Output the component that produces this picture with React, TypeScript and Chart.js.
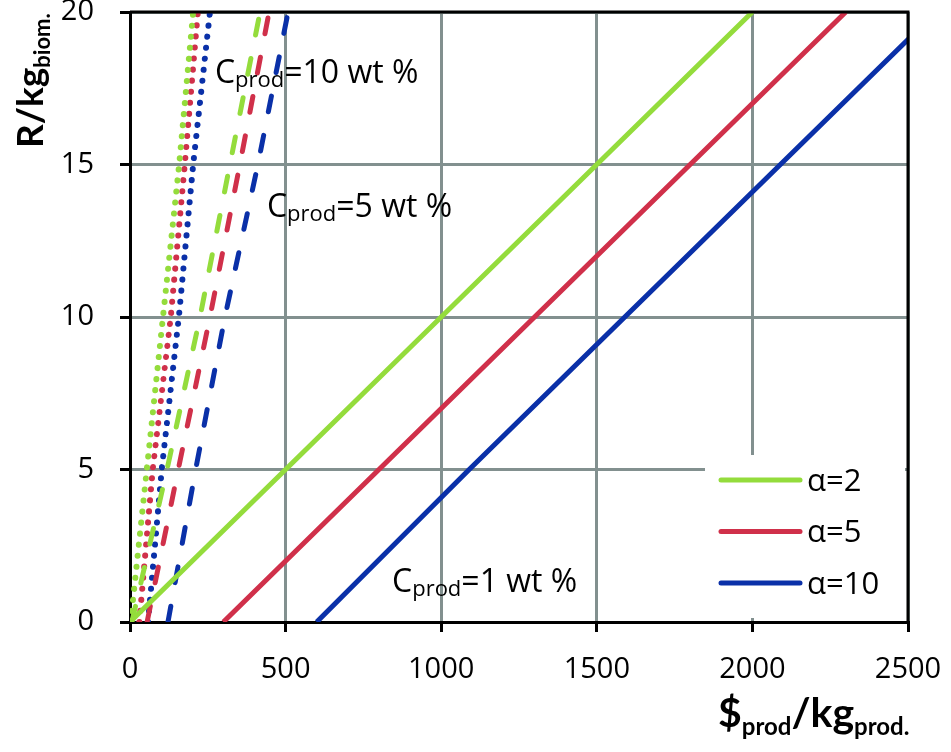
import React, { useEffect, useRef } from 'react';
import { Chart, registerables } from 'chart.js';

Chart.register(...registerables);

// ---- data ----
const GREEN = '#94dc3c';
const RED = '#d0304a';
const BLUE = '#0a30a8';

const alphaLabels = ['α=2', 'α=5', 'α=10'];
const alphaColors = [GREEN, RED, BLUE];

const xTicks = [0, 500, 1000, 1500, 2000, 2500];
const yTicks = [0, 5, 10, 15, 20];

// R/kg biomass levels at which each curve was read
const rLevels = [0, 5, 10, 15, 20];

// C_prod = 1 wt % (solid)
const solid2 = [0, 500, 1000, 1500, 2000];
const solid5 = [300, 800, 1300, 1800, 2300];
const solid10 = [600, 1090, 1590, 2090, 2590];

// C_prod = 5 wt % (dashed)
const dashed2 = [6, 119, 225, 321, 418];
const dashed5 = [55, 155, 257, 353, 447];
const dashed10 = [122, 211, 305, 411, 508];

// C_prod = 10 wt % (dotted)
const dotted2 = [2, 54, 106, 158, 203];
const dotted5 = [30, 73, 131, 176, 218];
const dotted10 = [58, 102, 157, 203, 257];

// annotation anchors (data units) and texts
const annotations = [
  { x: 273, y: 17.67, main: 'C', sub: 'prod', rest: '=10 wt %' },
  { x: 440, y: 13.28, main: 'C', sub: 'prod', rest: '=5 wt %' },
  { x: 842, y: 0.98, main: 'C', sub: 'prod', rest: '=1 wt %' },
];

const FONT = '"Open Sans", "Noto Sans", sans-serif';
const TITLE_FONT = 'Lato, "Open Sans", sans-serif';

function pts(xs: number[], ys: number[]) {
  return xs.map((x, i) => ({ x, y: ys[i] }));
}

function drawParts(
  ctx: CanvasRenderingContext2D,
  x: number,
  y: number,
  parts: { t: string; sub?: boolean }[],
  mainFont: string,
  subFont: string,
  subDy: number
) {
  ctx.textAlign = 'left';
  ctx.textBaseline = 'alphabetic';
  let cx = x;
  for (const p of parts) {
    ctx.font = p.sub ? subFont : mainFont;
    ctx.fillText(p.t, cx, p.sub ? y + subDy : y);
    cx += ctx.measureText(p.t).width;
  }
}

const overlayPlugin = {
  id: 'overlay',
  afterDatasetsDraw(chart: any) {
    const ctx: CanvasRenderingContext2D = chart.ctx;
    const { chartArea, scales } = chart;
    const xs = scales.x;
    const ys = scales.y;
    ctx.save();

    // annotations
    ctx.fillStyle = '#000';
    for (const a of annotations) {
      const px = xs.getPixelForValue(a.x);
      const py = ys.getPixelForValue(a.y);
      drawParts(
        ctx,
        px,
        py,
        [{ t: a.main }, { t: a.sub, sub: true }, { t: a.rest }],
        `32px ${FONT}`,
        `22px ${FONT}`,
        4
      );
    }

    // legend box
    const lx = chartArea.right - 203;
    const ly = chartArea.bottom - 167;
    ctx.fillStyle = '#ffffff';
    ctx.fillRect(lx, ly, 200, 163);
    alphaLabels.forEach((lab, i) => {
      const yy = ly + 25 + i * 51.5;
      ctx.strokeStyle = alphaColors[i];
      ctx.lineWidth = 5;
      ctx.lineCap = 'round';
      ctx.beginPath();
      ctx.moveTo(lx + 16, yy);
      ctx.lineTo(lx + 95, yy);
      ctx.stroke();
      ctx.fillStyle = '#000';
      ctx.font = `31px ${FONT}`;
      ctx.textAlign = 'left';
      ctx.textBaseline = 'middle';
      ctx.fillText(lab, lx + 102, yy + 2);
    });

    // top and right border
    ctx.strokeStyle = '#000';
    ctx.lineWidth = 3;
    ctx.lineCap = 'butt';
    ctx.beginPath();
    ctx.moveTo(chartArea.left, chartArea.top);
    ctx.lineTo(chartArea.right, chartArea.top);
    ctx.lineTo(chartArea.right, chartArea.bottom);
    ctx.stroke();

    // axis titles
    ctx.fillStyle = '#000';
    // x title
    drawParts(
      ctx,
      718,
      727,
      [{ t: '$' }, { t: 'prod', sub: true }, { t: '/kg' }, { t: 'prod.', sub: true }],
      `bold 41px ${TITLE_FONT}`,
      `bold 24px ${TITLE_FONT}`,
      8
    );
    // y title (rotated)
    ctx.translate(43, chartArea.top + 136);
    ctx.rotate(-Math.PI / 2);
    drawParts(
      ctx,
      0,
      0,
      [{ t: 'R/kg' }, { t: 'biom.', sub: true }],
      `bold 37px ${TITLE_FONT}`,
      `bold 22px ${TITLE_FONT}`,
      7
    );
    ctx.restore();
  },
};

export default function App() {
  const ref = useRef<HTMLCanvasElement | null>(null);

  useEffect(() => {
    if (!ref.current) return;
    const solid = { borderWidth: 5, borderDash: [] as number[] };
    const dashed = { borderWidth: 5, borderDash: [16, 24], borderCapStyle: 'round' as const };
    const dotted = { borderWidth: 6, borderDash: [0.1, 11], borderCapStyle: 'round' as const };
    const mk = (label: string, color: string, xs: number[], style: any) => ({
      label,
      data: pts(xs, rLevels),
      borderColor: color,
      backgroundColor: color,
      pointRadius: 0,
      fill: false,
      tension: 0,
      ...style,
    });

    const chart = new Chart(ref.current, {
      type: 'line',
      data: {
        datasets: [
          mk('α=2 (1 wt %)', GREEN, solid2, solid),
          mk('α=5 (1 wt %)', RED, solid5, solid),
          mk('α=10 (1 wt %)', BLUE, solid10, solid),
          mk('α=2 (5 wt %)', GREEN, dashed2, dashed),
          mk('α=5 (5 wt %)', RED, dashed5, dashed),
          mk('α=10 (5 wt %)', BLUE, dashed10, dashed),
          mk('α=2 (10 wt %)', GREEN, dotted2, dotted),
          mk('α=5 (10 wt %)', RED, dotted5, dotted),
          mk('α=10 (10 wt %)', BLUE, dotted10, dotted),
        ],
      },
      options: {
        responsive: false,
        animation: false,
        devicePixelRatio: 1,
        layout: { padding: { top: 12, right: 43, left: 0, bottom: 0 } },
        plugins: { legend: { display: false }, tooltip: { enabled: false } },
        scales: {
          x: {
            type: 'linear',
            min: 0,
            max: 2500,
            afterBuildTicks: (s: any) => {
              s.ticks = xTicks.map((v) => ({ value: v }));
            },
            afterFit: (s: any) => {
              s.height = 130;
              s.paddingLeft = 0;
              s.paddingRight = 0;
            },
            ticks: {
              color: '#000',
              font: { family: FONT, size: 29 },
              padding: 20,
              maxRotation: 0,
              callback: (v: any) => String(v),
            },
            grid: {
              color: '#82908f',
              lineWidth: 3,
              tickColor: '#000',
              tickWidth: 3,
              tickLength: 10,
            },
            border: { color: '#000', width: 3 },
          },
          y: {
            type: 'linear',
            min: 0,
            max: 20,
            afterBuildTicks: (s: any) => {
              s.ticks = yTicks.map((v) => ({ value: v }));
            },
            afterFit: (s: any) => {
              s.width = 130;
              s.paddingTop = 0;
              s.paddingBottom = 0;
            },
            ticks: {
              color: '#000',
              font: { family: FONT, size: 29 },
              padding: 26,
              callback: (v: any) => String(v),
            },
            grid: {
              color: '#82908f',
              lineWidth: 3,
              tickColor: '#000',
              tickWidth: 3,
              tickLength: 10,
            },
            border: { color: '#000', width: 3 },
          },
        },
      },
      plugins: [overlayPlugin],
    });
    return () => chart.destroy();
  }, []);

  return (
    <div style={{ position: 'absolute', left: 0, top: 0, width: 951, height: 752, background: '#fff' }}>
      <canvas ref={ref} width={951} height={752} style={{ display: 'block' }} />
    </div>
  );
}
